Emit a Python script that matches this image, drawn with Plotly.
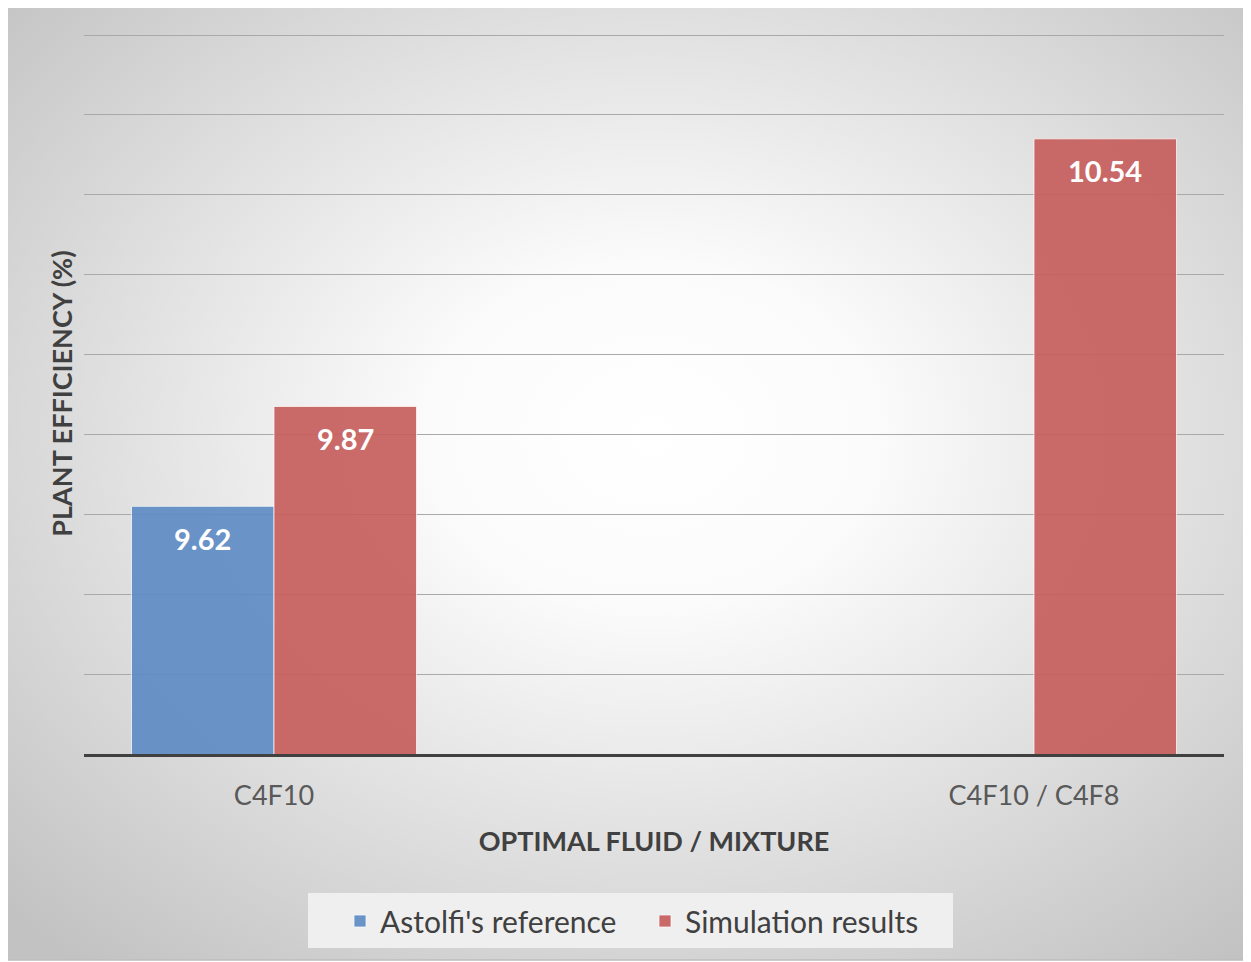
import base64
import plotly.graph_objects as go

# chart data
categories = ["C4F10", " ", "C4F10 / C4F8"]
astolfi_ref = [9.62, None, None]
simulation = [9.87, None, 10.54]
series_names = ["Astolfi's reference", "Simulation results"]
series_colors = ["rgba(94,140,196,0.92)", "rgba(198,94,92,0.92)"]

FONT = "Lato, Open Sans, sans-serif"
OFF = 8  # page body margin
W, H = 1251 - OFF, 962 - OFF
L, R, T, B = 84 - OFF, 27, 33 - OFF, 208

# radial grey background (white centre fading to grey edges)
svg = (
    '<svg xmlns="http://www.w3.org/2000/svg" width="1000" height="1000" preserveAspectRatio="none">'
    '<defs><radialGradient id="g" cx="0.52" cy="0.45" r="0.72">'
    '<stop offset="0" stop-color="#ffffff"/>'
    '<stop offset="0.25" stop-color="#fbfbfb"/>'
    '<stop offset="1" stop-color="#c2c2c2"/>'
    '</radialGradient></defs>'
    '<rect width="1000" height="1000" fill="url(#g)"/></svg>'
)
bg_src = "data:image/svg+xml;base64," + base64.b64encode(svg.encode()).decode()

pw, ph = W - L - R, H - T - B
def px_x(p):
    return (p - OFF - L) / pw
def px_y(p):
    return (H - B - (p - OFF)) / ph

fig = go.Figure()
for name, vals, col in zip(series_names, [astolfi_ref, simulation], series_colors):
    fig.add_trace(go.Bar(
        x=categories, y=vals, name=name,
        marker=dict(color=col, line=dict(color="rgba(255,255,255,0.7)", width=1)),
    ))

# value labels inside the top of each bar
half = 0.75 / 4
for i, vals in enumerate([astolfi_ref, simulation]):
    off = -half if i == 0 else half
    for k, v in enumerate(vals):
        if v is None:
            continue
        fig.add_annotation(
            x=k + off, y=v, xref="x", yref="y", text=f"<b>{v:.2f}</b>",
            showarrow=False, yshift=-32,
            font=dict(family=FONT, size=29, color="white"),
        )

x0, x1 = px_x(6), px_x(1248)
y0, y1 = px_y(960), px_y(6)
fig.add_layout_image(
    source=bg_src, xref="paper", yref="paper", x=x0, y=y1,
    sizex=x1 - x0, sizey=y1 - y0, xanchor="left", yanchor="top",
    sizing="stretch", layer="below",
)
fig.add_shape(type="rect", xref="paper", yref="paper", x0=x0, x1=x1, y0=y0, y1=y1,
              line=dict(color="#bdbdbd", width=1.5), layer="below")
# legend box
fig.add_shape(type="rect", xref="paper", yref="paper",
              x0=px_x(308), x1=px_x(953), y0=px_y(948), y1=px_y(893),
              fillcolor="#efefef", line=dict(width=0), layer="below")

fig.update_layout(
    width=W, height=H,
    margin=dict(l=L, r=R, t=T, b=B),
    paper_bgcolor="white", plot_bgcolor="rgba(0,0,0,0)",
    barmode="group", bargap=0.25, bargroupgap=0,
    font=dict(family=FONT, color="#404040"),
    legend=dict(
        orientation="h", x=px_x(645), xanchor="center", y=px_y(921), yanchor="middle",
        bgcolor="rgba(0,0,0,0)", font=dict(size=30, color="#404040"),
        itemwidth=30, entrywidth=260, traceorder="normal",
    ),
    xaxis=dict(
        categoryorder="array", categoryarray=categories, range=[-0.5, 2.5],
        showline=True, linecolor="#404040", linewidth=3, ticks="",
        tickfont=dict(size=27, color="#595959"), ticklabelstandoff=16,
        title=dict(text="<b>OPTIMAL FLUID / MIXTURE</b>", font=dict(size=27, color="#404040"), standoff=22),
    ),
    yaxis=dict(
        range=[9, 10.805], dtick=0.2, showticklabels=False, ticks="",
        showgrid=True, gridcolor="#a9a9a9", gridwidth=1.2, zeroline=False,
        title=dict(text="<b>PLANT EFFICIENCY (%)</b>", font=dict(size=27, color="#404040"), standoff=2),
    ),
)

fig.write_html("out.html")
